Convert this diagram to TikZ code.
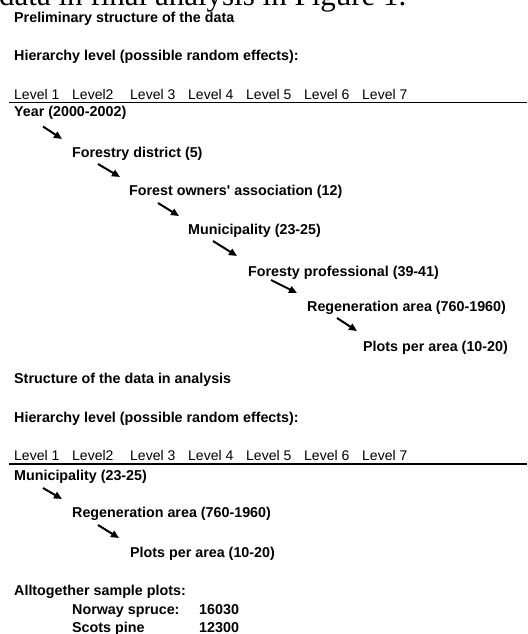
\documentclass[tikz,border=0pt]{standalone}
\usepackage{fontspec}
\setmainfont{Liberation Sans}
\newfontfamily\capserif{Liberation Serif}
\usetikzlibrary{arrows.meta}

\begin{document}
\begin{tikzpicture}
[x=1pt,y=-1pt,%
  every node/.style={inner sep=0pt,anchor=base west},%
  lvl/.style={font=\fontsize{14.3}{17}\selectfont\bfseries},%
  lab/.style={font=\fontsize{14}{17}\selectfont},%
  arr/.style={-{Triangle[length=8pt,width=7pt]},line width=2pt}]
\useasboundingbox (0,0) rectangle (527,634);
\clip (0,0) rectangle (527,634);
% caption line cut off at the top
\node[font=\capserif\fontsize{31}{36}\selectfont] (cut) at (-1,6) {data in final analysis in Figure 1.};
% preliminary structure
\node[lvl] (pretitle) at (14,23) {Preliminary structure of the data};
\node[lvl] (prehier) at (14,60) {Hierarchy level (possible random effects):};
\foreach \t [count=\i] in {Level 1,Level2,Level 3,Level 4,Level 5,Level 6,Level 7}
  \node[lab] (pl\i) at ({14+58*(\i-1)},99) {\t};
\draw[line width=1.3pt] (9,102.5) -- (527,102.5);
\node[lvl] (year) at (14,116.5) {Year (2000-2002)};
\node[lvl] (district) at (72,157) {Forestry district (5)};
\node[lvl] (assoc) at (129,195) {Forest owners\textquotesingle{} association (12)};
\node[lvl] (muni) at (188,234) {Municipality (23-25)};
\node[lvl] (prof) at (248,276) {Foresty professional (39-41)};
\node[lvl] (regen) at (307,311) {Regeneration area (760-1960)};
\node[lvl] (plots) at (363,351) {Plots per area (10-20)};
\draw[arr] ([shift={(29,10)}]year.base west) -- ([shift={(-10,-18)}]district.base west);
\draw[arr] ([shift={(26,7)}]district.base west) -- ([shift={(-9,-18)}]assoc.base west);
\draw[arr] ([shift={(29,8)}]assoc.base west) -- ([shift={(-9,-18)}]muni.base west);
\draw[arr] ([shift={(25,7)}]muni.base west) -- ([shift={(-11,-20)}]prof.base west);
\draw[arr] ([shift={(23,4)}]prof.base west) -- ([shift={(-10,-18)}]regen.base west);
\draw[arr] ([shift={(30,7)}]regen.base west) -- ([shift={(-6,-20)}]plots.base west);
% structure in analysis
\node[lvl] (antitle) at (14,383) {Structure of the data in analysis};
\node[lvl] (anhier) at (14,422) {Hierarchy level (possible random effects):};
\foreach \t [count=\i] in {Level 1,Level2,Level 3,Level 4,Level 5,Level 6,Level 7}
  \node[lab] (al\i) at ({14+58*(\i-1)},460) {\t};
\draw[line width=1.3pt] (9,464) -- (527,464);
\node[lvl] (amuni) at (14,480) {Municipality (23-25)};
\node[lvl] (aregen) at (72,517) {Regeneration area (760-1960)};
\node[lvl] (aplots) at (130,557) {Plots per area (10-20)};
\draw[arr] ([shift={(29,8)}]amuni.base west) -- ([shift={(-10,-18)}]aregen.base west);
\draw[arr] ([shift={(26,8)}]aregen.base west) -- ([shift={(-11,-19)}]aplots.base west);
% totals
\node[lvl] (total) at (14,595) {Alltogether sample plots:};
\node[lvl] (spruce) at (72,614) {Norway spruce:};
\node[lvl] (sprucen) at (199,614) {16030};
\node[lvl] (pine) at (72,632) {Scots pine};
\node[lvl] (pinen) at (199,632) {12300};
\end{tikzpicture}
\end{document}
